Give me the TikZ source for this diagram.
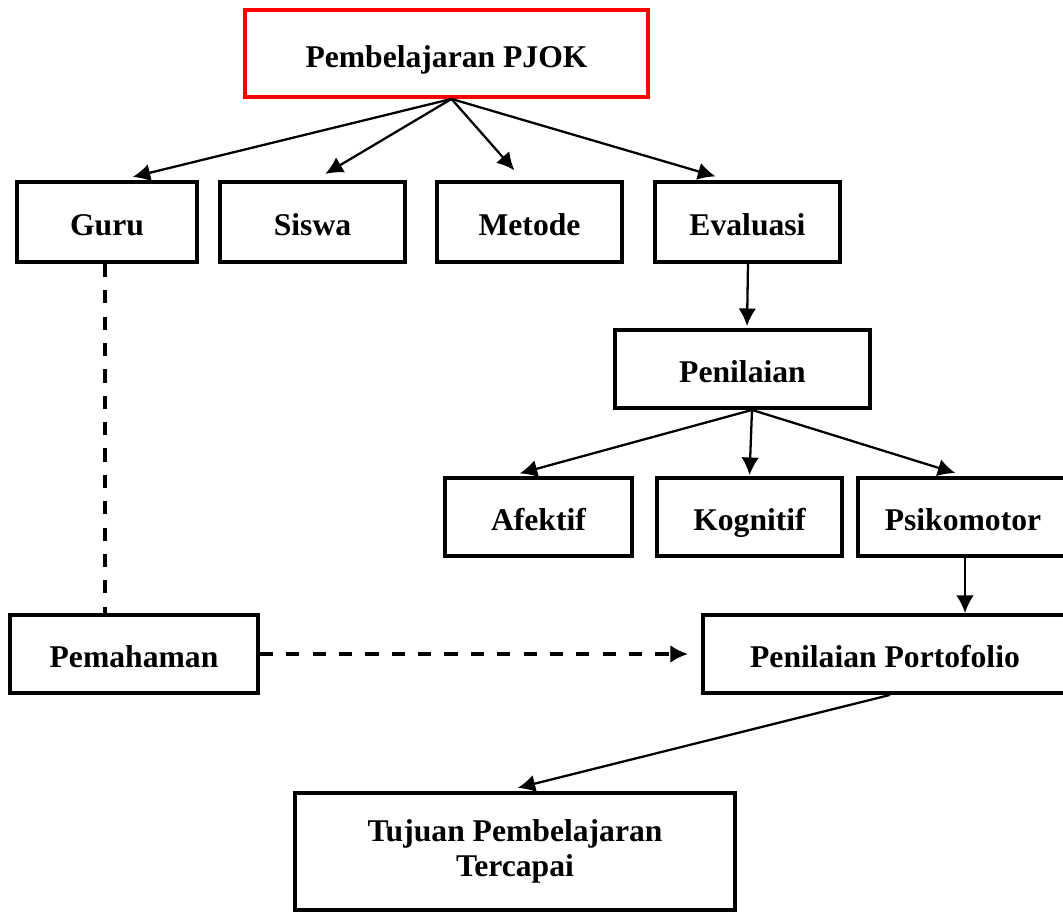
\documentclass[tikz,border=0pt]{standalone}
\usepackage{fontspec}
\setmainfont{Liberation Serif}
\usetikzlibrary{arrows.meta}

\begin{document}
\begin{tikzpicture}[
  box/.style = {draw, line width = 2.2pt, rectangle, align = center, inner sep = 0pt,
                font = \fontsize{18}{20}\selectfont\bfseries, minimum height = 1.56cm},
  word/.style = {box, text height = 17pt, text depth = 1.5pt},
  link/.style = {line width = 1.3pt, -{Latex[length = 10pt, width = 10pt]}},
  dashlink/.style = {line width = 1.8pt, dash pattern = on 7.5pt off 7.5pt}
]
\useasboundingbox (0,0) rectangle (21.26,-18.24);
\node [word, draw = red, minimum width = 8.06cm, minimum height = 1.74cm] (pjok) at (8.93,-1.07) {Pembelajaran PJOK};
\node [word, minimum width = 3.6cm, minimum height = 1.6cm] (guru) at (2.14,-4.44) {Guru};
\node [word, minimum width = 3.7cm, minimum height = 1.6cm] (siswa) at (6.25,-4.44) {Siswa};
\node [word, minimum width = 3.7cm, minimum height = 1.6cm] (metode) at (10.59,-4.44) {Metode};
\node [word, minimum width = 3.7cm, minimum height = 1.6cm] (evaluasi) at (14.95,-4.44) {Evaluasi};
\node [word, minimum width = 5.1cm] (penilaian) at (14.85,-7.38) {Penilaian};
\node [word, minimum width = 3.74cm] (afektif) at (10.77,-10.34) {Afektif};
\node [word, minimum width = 3.7cm] (kognitif) at (14.99,-10.34) {Kognitif};
\node [word, minimum width = 4.2cm] (psikomotor) at (19.26,-10.34) {Psikomotor};
\node [word, minimum width = 4.96cm] (pemahaman) at (2.68,-13.08) {Pemahaman};
\node [word, minimum width = 7.28cm] (portofolio) at (17.7,-13.08) {Penilaian Portofolio};
\node [box, minimum width = 8.8cm, minimum height = 2.34cm] (tujuan) at (10.3,-17.03) {Tujuan Pembelajaran\\Tercapai};

\draw [link, shorten >= 0.26cm] ([xshift = 0.1cm]pjok.south) -- ([xshift = 0.26cm]guru.north);
\draw [link, shorten >= 0.24cm] ([xshift = 0.1cm]pjok.south) -- ([xshift = 0.05cm]siswa.north);
\draw [link, shorten >= 0.26cm] ([xshift = 0.1cm]pjok.south) -- ([xshift = -0.13cm]metode.north);
\draw [link, shorten >= 0.26cm] ([xshift = 0.1cm]pjok.south) -- ([xshift = -0.39cm]evaluasi.north);
\draw [link, shorten >= 0.04cm] ([xshift = 0.01cm]evaluasi.south) -- ([xshift = 0.09cm]penilaian.north);
\draw [link, shorten >= 0.2cm] ([xshift = 0.19cm]penilaian.south) -- ([xshift = -0.57cm]afektif.north);
\draw [link, shorten >= 0.02cm] ([xshift = 0.19cm]penilaian.south) -- (kognitif.north);
\draw [link, shorten >= 0.2cm] ([xshift = 0.19cm]penilaian.south) -- ([xshift = 0.04cm]psikomotor.north);
\draw [link] ([xshift = 0.04cm]psikomotor.south) -- ([xshift = 0.04cm]psikomotor.south |- portofolio.north);
\draw [dashlink] ([xshift = -0.04cm]guru.south) -- ([xshift = -0.04cm]guru.south |- pemahaman.north);
\draw [dashlink, -{Latex[length = 10pt, width = 10pt]}, shorten >= 0.26cm] (pemahaman.east) -- (portofolio.west);
\draw [link, shorten >= 0.26cm] ([xshift = 0.1cm]portofolio.south) -- ([xshift = -0.2cm]tujuan.north);
\end{tikzpicture}
\end{document}
